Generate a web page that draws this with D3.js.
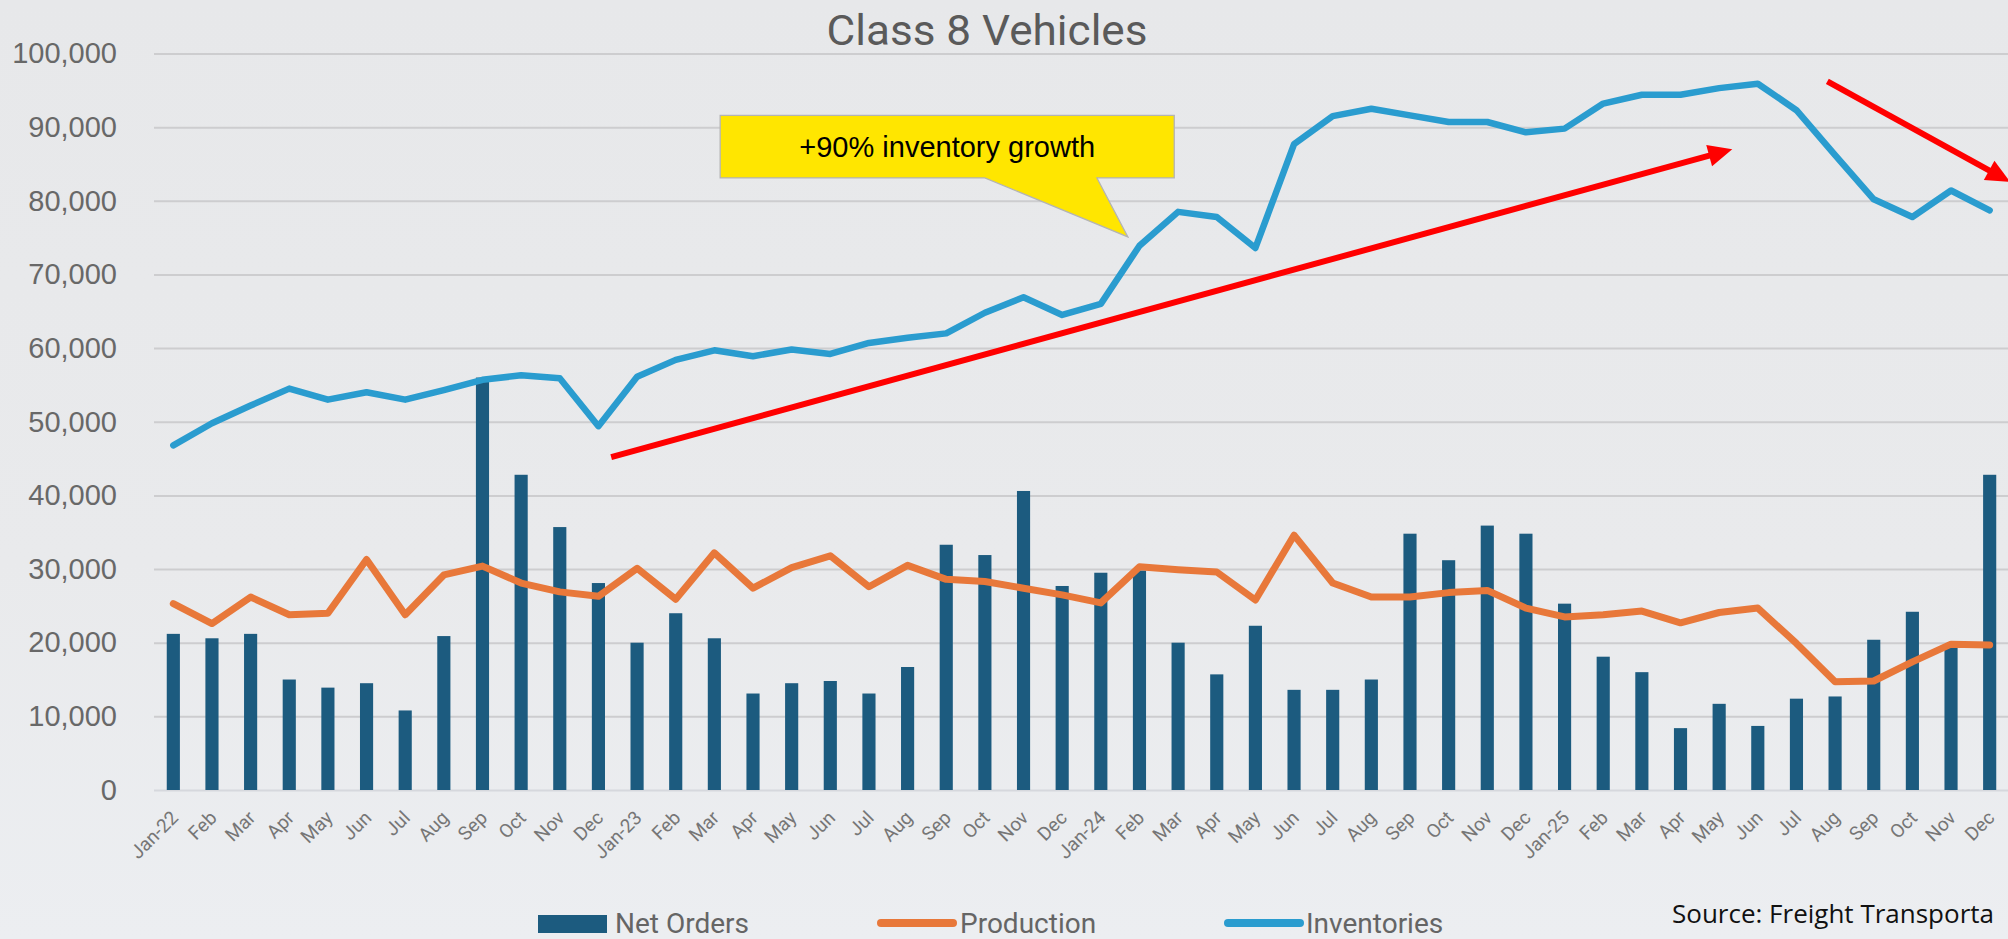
<!DOCTYPE html>
<html>
<head>
<meta charset="utf-8">
<script src="https://cdn.jsdelivr.net/npm/d3@7"></script>
<style>
  html, body { margin: 0; padding: 0; overflow: hidden; background: #e9eaec; }
  svg { display: block; }
</style>
</head>
<body>
<svg id="chart" width="2008" height="939"></svg>
<script>
// Monthly Class 8 truck market, Jan 2022 – Dec 2025
const months = [
  "Jan-22","Feb","Mar","Apr","May","Jun","Jul","Aug","Sep","Oct","Nov","Dec",
  "Jan-23","Feb","Mar","Apr","May","Jun","Jul","Aug","Sep","Oct","Nov","Dec",
  "Jan-24","Feb","Mar","Apr","May","Jun","Jul","Aug","Sep","Oct","Nov","Dec",
  "Jan-25","Feb","Mar","Apr","May","Jun","Jul","Aug","Sep","Oct","Nov","Dec"
];

const netOrders = [
  21200, 20600, 21200, 15000, 13900, 14500, 10800, 20900, 56000, 42800, 35700, 28100,
  20000, 24000, 20600, 13100, 14500, 14800, 13100, 16700, 33300, 31900, 40600, 27700,
  29500, 29800, 20000, 15700, 22300, 13600, 13600, 15000, 34800, 31200, 35900, 34800,
  25300, 18100, 16000,  8400, 11700,  8700, 12400, 12700, 20400, 24200, 19500, 42800
];

const production = [
  25300, 22600, 26200, 23800, 24000, 31300, 23800, 29200, 30400, 28100, 26900, 26300,
  30100, 25900, 32200, 27400, 30200, 31800, 27600, 30500, 28600, 28300, 27400, 26500,
  25400, 30300, 29900, 29600, 25800, 34600, 28100, 26200, 26200, 26800, 27100, 24700,
  23500, 23800, 24300, 22700, 24100, 24700, 19900, 14700, 14800, 17400, 19800, 19700
];

const inventories = [
  46800, 49800, 52200, 54500, 53000, 54000, 53000, 54300, 55700, 56300, 55900, 49400,
  56100, 58400, 59700, 58900, 59800, 59200, 60700, 61400, 62000, 64800, 66900, 64500,
  66000, 73900, 78500, 77800, 73600, 87700, 91500, 92500, 91600, 90700, 90700, 89300,
  89800, 93200, 94400, 94400, 95300, 95900, 92300, 86200, 80200, 77800, 81400, 78700
];

const yTicks = [0, 10000, 20000, 30000, 40000, 50000, 60000, 70000, 80000, 90000, 100000];

const seriesNames = ["Net Orders", "Production", "Inventories"];

// Annotations, positioned in data units: [month index, vehicles]
const growthArrow  = { from: [11.33, 45200], to: [40.34, 87000] };
const declineArrow = { from: [42.80, 96200], to: [47.53, 82550] };
const callout = {
  left: 14.15, right: 25.9, top: 91600, bottom: 83100,
  baseFrom: 21.0, baseTo: 23.9, tip: [24.7, 75100],
  label: "+90% inventory growth"
};

const titleText  = "Class 8 Vehicles";
const sourceText = "Source: Freight Transporta";

// ---- layout ----
const W = 2008, H = 939;
const plot = { left: 154, right: 2009, top: 53.5, bottom: 790 };

const colors = {
  bars: "#1c5b7f",
  production: "#e8783a",
  inventories: "#2a9ccf",
  arrow: "#ff0000",
  grid: "#cdcdcf",
  axisText: "#686868"
};

const svg = d3.select("#chart");

// background wash
const defs = svg.append("defs");
const bg = defs.append("linearGradient").attr("id", "bg")
  .attr("x1", 0).attr("y1", 0).attr("x2", 0).attr("y2", 1);
bg.append("stop").attr("offset", "0%").attr("stop-color", "#e7e8ea");
bg.append("stop").attr("offset", "60%").attr("stop-color", "#e9eaec");
bg.append("stop").attr("offset", "100%").attr("stop-color", "#eceef1");
svg.append("rect").attr("width", W).attr("height", H).attr("fill", "url(#bg)");

// ---- scales ----
const x = d3.scaleBand()
  .domain(d3.range(months.length))
  .range([plot.left, plot.right])
  .paddingInner(0.66)
  .paddingOuter(0.33);
const xc = i => x(i) + x.bandwidth() / 2;
const xi = d3.scaleLinear().domain([0, months.length - 1]).range([xc(0), xc(months.length - 1)]);

const y = d3.scaleLinear().domain([0, 100000]).range([plot.bottom, plot.top]);

// ---- y axis with gridlines ----
const yAxis = svg.append("g")
  .attr("transform", `translate(${plot.left},0)`)
  .call(d3.axisLeft(y)
    .tickValues(yTicks)
    .tickSize(-(plot.right - plot.left))
    .tickPadding(37)
    .tickFormat(d3.format(",")));
yAxis.select(".domain").remove();
yAxis.selectAll(".tick line")
  .attr("stroke", d => d === 0 ? "#d6d8dd" : colors.grid)
  .attr("stroke-width", 2);
yAxis.selectAll(".tick text")
  .attr("fill", colors.axisText)
  .style("font-family", "'Liberation Sans', Arial, sans-serif")
  .style("font-size", "29px");

// ---- x axis ----
const xAxis = svg.append("g")
  .attr("transform", `translate(0,${plot.bottom})`)
  .call(d3.axisBottom(x).tickSize(0).tickFormat(i => months[i]));
xAxis.select(".domain").remove();
xAxis.selectAll(".tick text")
  .attr("x", 0).attr("y", 0).attr("dy", 0)
  .attr("text-anchor", "end")
  .attr("transform", "translate(6,29) rotate(-45)")
  .attr("fill", "#767676")
  .style("font-family", "Roboto, sans-serif")
  .style("font-size", "19px");

// ---- net orders bars ----
svg.append("g").selectAll("rect")
  .data(netOrders)
  .join("rect")
  .attr("x", (d, i) => x(i))
  .attr("width", x.bandwidth())
  .attr("y", d => y(d))
  .attr("height", d => y(0) - y(d))
  .attr("fill", colors.bars);

// ---- lines ----
const line = d3.line().x((d, i) => xc(i)).y(d => y(d));

svg.append("path")
  .datum(production)
  .attr("d", line)
  .attr("fill", "none")
  .attr("stroke", colors.production)
  .attr("stroke-width", 7)
  .attr("stroke-linejoin", "round")
  .attr("stroke-linecap", "round");

svg.append("path")
  .datum(inventories)
  .attr("d", line)
  .attr("fill", "none")
  .attr("stroke", colors.inventories)
  .attr("stroke-width", 6.5)
  .attr("stroke-linejoin", "round")
  .attr("stroke-linecap", "round");

// ---- red trend arrows ----
function drawArrow(a) {
  const x1 = xi(a.from[0]), y1 = y(a.from[1]);
  const x2 = xi(a.to[0]),   y2 = y(a.to[1]);
  const ang = Math.atan2(y2 - y1, x2 - x1);
  const headLen = 24, headHalf = 11;
  const bx = x2 - headLen * Math.cos(ang), by = y2 - headLen * Math.sin(ang);
  const nx = -Math.sin(ang), ny = Math.cos(ang);
  const g = svg.append("g");
  g.append("line")
    .attr("x1", x1).attr("y1", y1)
    .attr("x2", bx + 2 * Math.cos(ang)).attr("y2", by + 2 * Math.sin(ang))
    .attr("stroke", colors.arrow)
    .attr("stroke-width", 6);
  g.append("path")
    .attr("d", `M${x2},${y2}L${bx + nx * headHalf},${by + ny * headHalf}L${bx - nx * headHalf},${by - ny * headHalf}Z`)
    .attr("fill", colors.arrow);
}
drawArrow(growthArrow);
drawArrow(declineArrow);

// ---- callout ----
const cl = xi(callout.left), cr = xi(callout.right);
const ct = y(callout.top), cb = y(callout.bottom);
const bf = xi(callout.baseFrom), bt = xi(callout.baseTo);
const tx = xi(callout.tip[0]), ty = y(callout.tip[1]);
svg.append("path")
  .attr("d", `M${cl},${ct}H${cr}V${cb}H${bt}L${tx},${ty}L${bf},${cb}H${cl}Z`)
  .attr("fill", "#ffe600")
  .attr("stroke", "#b4b4b4")
  .attr("stroke-width", 1.3);
svg.append("text")
  .attr("x", (cl + cr) / 2)
  .attr("y", (ct + cb) / 2)
  .attr("dy", "0.36em")
  .attr("text-anchor", "middle")
  .attr("fill", "#000")
  .style("font-family", "'Liberation Sans', Arial, sans-serif")
  .style("font-size", "29px")
  .text(callout.label);

// ---- title ----
svg.append("text")
  .attr("x", 987)
  .attr("y", 45)
  .attr("text-anchor", "middle")
  .attr("fill", "#5a5a5a")
  .attr("textLength", 321)
  .attr("lengthAdjust", "spacingAndGlyphs")
  .style("font-family", "Roboto, sans-serif")
  .style("font-size", "42px")
  .text(titleText);

// ---- legend ----
const legend = svg.append("g").style("font-family", "Roboto, sans-serif").style("font-size", "28px");
const legendItems = [
  { name: seriesNames[0], kind: "bar",  color: colors.bars,        x0: 538,  x1: 607,  tx: 615 },
  { name: seriesNames[1], kind: "line", color: colors.production,  x0: 881,  x1: 953,  tx: 960 },
  { name: seriesNames[2], kind: "line", color: colors.inventories, x0: 1228, x1: 1300, tx: 1306 }
];
legendItems.forEach(it => {
  if (it.kind === "bar") {
    legend.append("rect")
      .attr("x", it.x0).attr("y", 915)
      .attr("width", it.x1 - it.x0).attr("height", 18)
      .attr("fill", it.color);
  } else {
    legend.append("line")
      .attr("x1", it.x0).attr("x2", it.x1)
      .attr("y1", 923).attr("y2", 923)
      .attr("stroke", it.color)
      .attr("stroke-width", 8)
      .attr("stroke-linecap", "round");
  }
  legend.append("text")
    .attr("x", it.tx).attr("y", 933)
    .attr("fill", "#656565")
    .text(it.name);
});

// ---- source note ----
svg.append("text")
  .attr("x", 1672)
  .attr("y", 923)
  .attr("fill", "#111")
  .attr("textLength", 322)
  .attr("lengthAdjust", "spacingAndGlyphs")
  .style("font-family", "'Open Sans', 'Noto Sans', sans-serif")
  .style("font-size", "26px")
  .text(sourceText);
</script>
</body>
</html>
